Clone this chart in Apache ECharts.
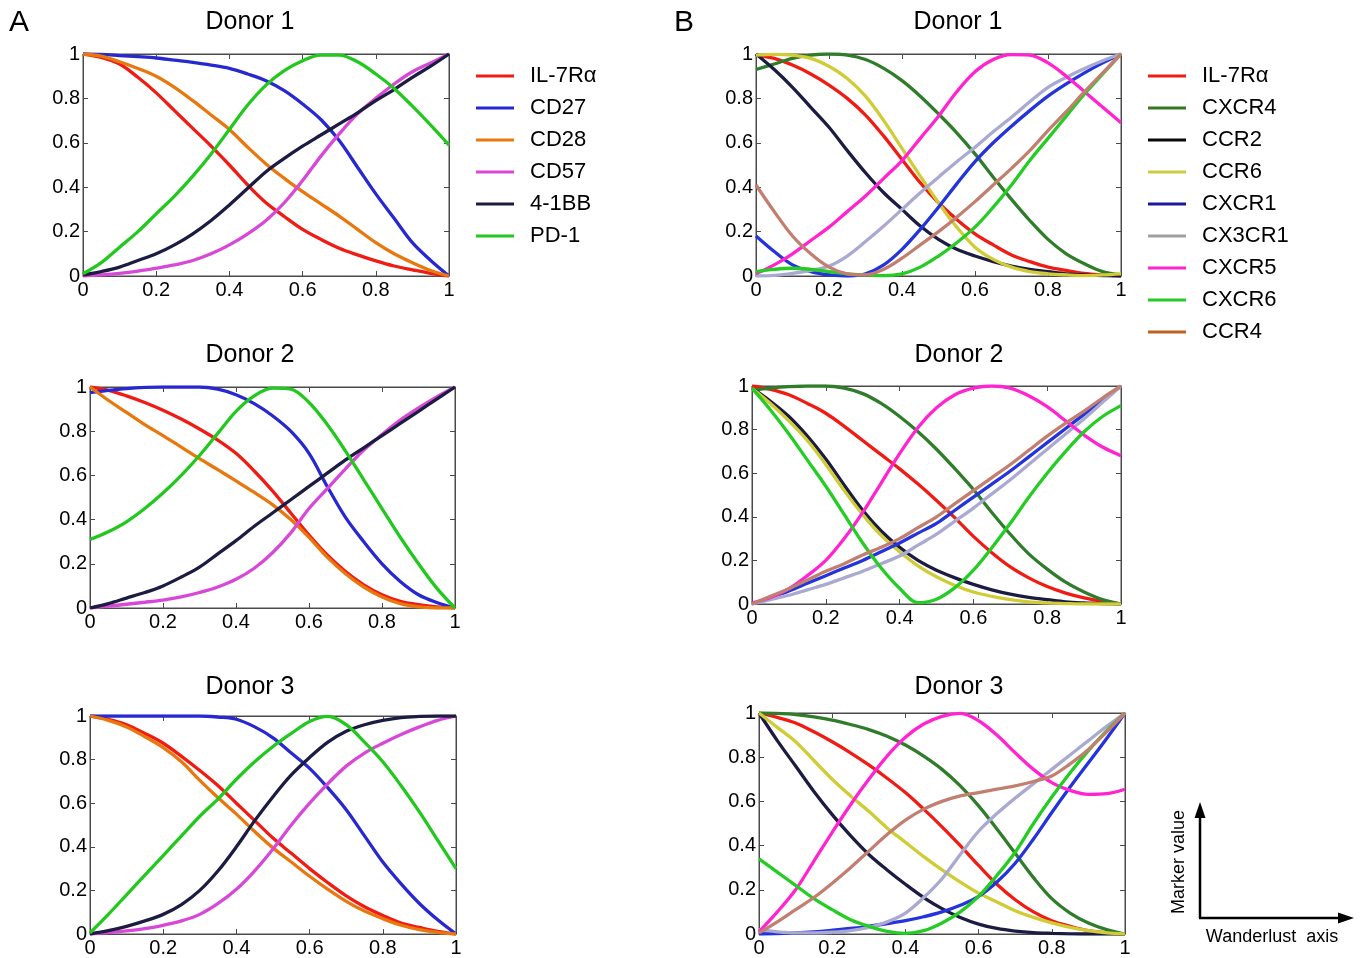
<!DOCTYPE html>
<html>
<head>
<meta charset="utf-8">
<title>Wanderlust marker trajectories</title>
<script src="https://cdn.jsdelivr.net/npm/echarts@6/dist/echarts.min.js"></script>
<style>
  html, body { margin: 0; padding: 0; background: #fff; }
  #chart { width: 1366px; height: 958px; }
</style>
</head>
<body>
<div id="chart"></div>
<script>
// positions along the wanderlust axis, shared by every curve
const wx = [0, 0.05, 0.1, 0.15, 0.2, 0.25, 0.3, 0.35, 0.4, 0.45, 0.5,
            0.55, 0.6, 0.65, 0.7, 0.75, 0.8, 0.85, 0.9, 0.95, 1]

const markersA = ['IL-7Rα', 'CD27', 'CD28', 'CD57', '4-1BB', 'PD-1']
const markersB = ['IL-7Rα', 'CXCR4', 'CCR2', 'CCR6', 'CXCR1', 'CX3CR1', 'CXCR5', 'CXCR6', 'CCR4']

// panel A, one row per marker (same order as markersA)
const donorA1 = [
  [1, 0.985, 0.955, 0.895, 0.825, 0.745, 0.665, 0.585, 0.5, 0.41, 0.33, 0.268, 0.21, 0.165, 0.125, 0.095, 0.068, 0.045, 0.028, 0.012, 0],
  [1, 0.998, 0.993, 0.988, 0.982, 0.972, 0.962, 0.95, 0.935, 0.91, 0.88, 0.835, 0.775, 0.705, 0.61, 0.49, 0.37, 0.26, 0.15, 0.07, 0],
  [1, 0.99, 0.965, 0.935, 0.9, 0.85, 0.79, 0.725, 0.66, 0.58, 0.505, 0.44, 0.38, 0.325, 0.27, 0.21, 0.15, 0.1, 0.06, 0.025, 0],
  [0, 0.005, 0.012, 0.022, 0.035, 0.05, 0.07, 0.1, 0.14, 0.19, 0.25, 0.33, 0.43, 0.54, 0.64, 0.73, 0.8, 0.865, 0.92, 0.96, 1],
  [0.005, 0.02, 0.04, 0.07, 0.1, 0.14, 0.19, 0.25, 0.32, 0.395, 0.47, 0.53, 0.585, 0.635, 0.685, 0.735, 0.79, 0.84, 0.895, 0.945, 1],
  [0.01, 0.06, 0.13, 0.2, 0.28, 0.36, 0.45, 0.55, 0.66, 0.77, 0.86, 0.925, 0.97, 0.995, 0.995, 0.965, 0.91, 0.845, 0.765, 0.68, 0.59]
]
const donorA2 = [
  [1, 0.985, 0.96, 0.93, 0.895, 0.855, 0.81, 0.76, 0.7, 0.62, 0.53, 0.43, 0.33, 0.24, 0.165, 0.105, 0.06, 0.03, 0.015, 0.005, 0],
  [0.975, 0.985, 0.993, 0.998, 1, 1, 1, 0.99, 0.965, 0.925, 0.87, 0.8, 0.7, 0.55, 0.41, 0.3, 0.2, 0.12, 0.06, 0.025, 0],
  [1, 0.94, 0.885, 0.83, 0.78, 0.728, 0.676, 0.626, 0.575, 0.523, 0.468, 0.4, 0.32, 0.23, 0.155, 0.095, 0.05, 0.02, 0.005, 0, 0],
  [0, 0.008, 0.017, 0.026, 0.036, 0.05, 0.07, 0.095, 0.13, 0.18, 0.25, 0.34, 0.45, 0.54, 0.63, 0.715, 0.785, 0.85, 0.905, 0.955, 1],
  [0, 0.02, 0.045, 0.07, 0.1, 0.14, 0.185, 0.245, 0.305, 0.37, 0.43, 0.49, 0.55, 0.61, 0.67, 0.725, 0.78, 0.835, 0.89, 0.945, 1],
  [0.31, 0.345, 0.39, 0.45, 0.52, 0.6, 0.69, 0.79, 0.89, 0.96, 0.995, 0.99, 0.93, 0.83, 0.71, 0.58, 0.45, 0.32, 0.2, 0.09, 0]
]
const donorA3 = [
  [1, 0.985, 0.96, 0.92, 0.875, 0.815, 0.75, 0.68, 0.6, 0.52, 0.44, 0.37, 0.3, 0.235, 0.175, 0.125, 0.085, 0.05, 0.03, 0.012, 0],
  [1, 1, 1, 1, 1, 1, 1, 0.995, 0.985, 0.95, 0.9, 0.83, 0.76, 0.67, 0.57, 0.45, 0.33, 0.23, 0.14, 0.065, 0],
  [1, 0.98, 0.95, 0.905, 0.855, 0.79, 0.705, 0.625, 0.55, 0.47, 0.395, 0.33, 0.265, 0.205, 0.15, 0.105, 0.07, 0.04, 0.02, 0.007, 0],
  [0, 0.006, 0.014, 0.025, 0.04, 0.06, 0.09, 0.14, 0.205, 0.29, 0.39, 0.5, 0.6, 0.69, 0.77, 0.83, 0.875, 0.915, 0.95, 0.98, 1],
  [0, 0.015, 0.035, 0.06, 0.09, 0.135, 0.2, 0.29, 0.4, 0.52, 0.63, 0.73, 0.81, 0.88, 0.93, 0.96, 0.98, 0.993, 0.998, 1, 1],
  [0.005, 0.09, 0.18, 0.27, 0.36, 0.45, 0.54, 0.62, 0.71, 0.79, 0.86, 0.92, 0.975, 0.998, 0.96, 0.88, 0.79, 0.68, 0.56, 0.43, 0.3]
]

// panel B, one row per marker (same order as markersB)
const donorB1 = [
  [0.995, 0.98, 0.95, 0.91, 0.86, 0.8, 0.725, 0.63, 0.525, 0.42, 0.33, 0.255, 0.19, 0.14, 0.095, 0.065, 0.04, 0.025, 0.012, 0.005, 0],
  [0.93, 0.955, 0.98, 0.995, 1, 0.995, 0.975, 0.935, 0.88, 0.81, 0.73, 0.645, 0.55, 0.445, 0.345, 0.25, 0.165, 0.1, 0.055, 0.02, 0.005],
  [1, 0.93, 0.85, 0.76, 0.67, 0.565, 0.465, 0.375, 0.3, 0.225, 0.165, 0.12, 0.09, 0.065, 0.045, 0.03, 0.02, 0.01, 0.005, 0.002, 0],
  [0.995, 0.998, 0.995, 0.98, 0.945, 0.89, 0.81, 0.7, 0.575, 0.45, 0.33, 0.22, 0.13, 0.075, 0.04, 0.02, 0.01, 0.005, 0.002, 0.005, 0.01],
  [0.18, 0.11, 0.05, 0.02, 0.005, 0, 0.01, 0.05, 0.12, 0.21, 0.31, 0.415, 0.515, 0.6, 0.675, 0.745, 0.81, 0.865, 0.915, 0.96, 1],
  [0, 0.003, 0.012, 0.025, 0.045, 0.09, 0.155, 0.225, 0.3, 0.375, 0.445, 0.515, 0.58, 0.65, 0.715, 0.785, 0.85, 0.895, 0.935, 0.97, 1],
  [0.01, 0.05, 0.1, 0.16, 0.22, 0.29, 0.36, 0.44, 0.52, 0.62, 0.72, 0.83, 0.92, 0.975, 0.997, 0.995, 0.96, 0.9, 0.83, 0.76, 0.69],
  [0.02, 0.03, 0.035, 0.03, 0.02, 0.01, 0.005, 0.002, 0.01, 0.04, 0.09, 0.15, 0.22, 0.31, 0.41, 0.52, 0.62, 0.72, 0.82, 0.91, 1],
  [0.41, 0.29, 0.18, 0.1, 0.04, 0.01, 0.005, 0.03, 0.08, 0.14, 0.2, 0.265, 0.335, 0.41, 0.485, 0.565, 0.655, 0.74, 0.83, 0.915, 1]
]
const donorB2 = [
  [1, 0.985, 0.96, 0.92, 0.875, 0.815, 0.75, 0.685, 0.62, 0.55, 0.475, 0.395, 0.31, 0.235, 0.17, 0.12, 0.08, 0.05, 0.028, 0.012, 0],
  [0.98, 0.99, 0.997, 1, 1, 0.99, 0.965, 0.92, 0.86, 0.79, 0.71, 0.62, 0.525, 0.42, 0.32, 0.23, 0.16, 0.1, 0.055, 0.02, 0],
  [0.99, 0.93, 0.86, 0.77, 0.665, 0.545, 0.43, 0.335, 0.26, 0.2, 0.155, 0.12, 0.09, 0.065, 0.045, 0.03, 0.02, 0.01, 0.005, 0.002, 0],
  [0.99, 0.92, 0.84, 0.75, 0.64, 0.52, 0.41, 0.315, 0.24, 0.175, 0.125, 0.085, 0.055, 0.035, 0.02, 0.01, 0.005, 0.002, 0, 0, 0],
  [0, 0.03, 0.06, 0.095, 0.13, 0.165, 0.2, 0.24, 0.28, 0.325, 0.37, 0.43, 0.49, 0.55, 0.61, 0.675, 0.74, 0.805, 0.87, 0.935, 1],
  [0, 0.02, 0.04, 0.065, 0.09, 0.12, 0.15, 0.185, 0.22, 0.27, 0.32, 0.38, 0.44, 0.505, 0.57, 0.64, 0.71, 0.78, 0.85, 0.925, 1],
  [0.005, 0.03, 0.07, 0.13, 0.2, 0.3, 0.42, 0.555, 0.69, 0.81, 0.9, 0.96, 0.99, 1, 0.99, 0.955, 0.905, 0.84, 0.775, 0.72, 0.68],
  [0.99, 0.89, 0.78, 0.66, 0.54, 0.41, 0.28, 0.165, 0.072, 0.006, 0.022, 0.075, 0.155, 0.258, 0.37, 0.49, 0.6, 0.7, 0.79, 0.86, 0.91],
  [0, 0.035, 0.07, 0.11, 0.15, 0.185, 0.225, 0.26, 0.3, 0.35, 0.4, 0.46, 0.52, 0.58, 0.64, 0.705, 0.77, 0.83, 0.885, 0.945, 1]
]
const donorB3 = [
  [1, 0.98, 0.955, 0.915, 0.87, 0.82, 0.765, 0.705, 0.64, 0.565, 0.485, 0.4, 0.31, 0.225, 0.155, 0.1, 0.06, 0.035, 0.015, 0.005, 0],
  [1, 0.998, 0.993, 0.983, 0.968, 0.948, 0.925, 0.895, 0.855, 0.805, 0.745, 0.67, 0.58, 0.475, 0.365, 0.255, 0.16, 0.095, 0.05, 0.02, 0],
  [1, 0.875, 0.76, 0.645, 0.54, 0.445, 0.36, 0.29, 0.225, 0.165, 0.115, 0.075, 0.045, 0.025, 0.013, 0.006, 0.003, 0.001, 0, 0, 0],
  [1, 0.935, 0.87, 0.785, 0.7, 0.625, 0.555, 0.48, 0.415, 0.35, 0.29, 0.235, 0.185, 0.145, 0.105, 0.075, 0.05, 0.03, 0.015, 0.005, 0],
  [0, 0.002, 0.005, 0.01, 0.017, 0.025, 0.035, 0.047, 0.06, 0.078, 0.1, 0.13, 0.17, 0.235, 0.32, 0.43, 0.55, 0.665, 0.775, 0.885, 1],
  [0.02, 0.01, 0.005, 0.005, 0.008, 0.015, 0.03, 0.055, 0.095, 0.165, 0.25, 0.36, 0.465, 0.545, 0.615, 0.68, 0.745, 0.81, 0.875, 0.94, 1],
  [0.01, 0.1, 0.2, 0.33, 0.46, 0.585, 0.7, 0.805, 0.89, 0.95, 0.985, 0.998, 0.965, 0.9, 0.82, 0.745, 0.685, 0.65, 0.632, 0.635, 0.655],
  [0.34, 0.28, 0.22, 0.16, 0.11, 0.065, 0.035, 0.012, 0.003, 0.015, 0.05, 0.1, 0.17, 0.265, 0.37, 0.5, 0.62, 0.73, 0.83, 0.92, 1],
  [0.005, 0.055, 0.11, 0.165, 0.23, 0.3, 0.375, 0.45, 0.515, 0.565, 0.6, 0.625, 0.64, 0.655, 0.67, 0.69, 0.715, 0.77, 0.835, 0.915, 1]
]

const FONT = 'Arial, "Liberation Sans", sans-serif'
const BOX = '#4a4a4a'

// curve colours as drawn inside the plots
const lineColor = {
  'IL-7Rα': '#f01c14', 'CD27': '#2828d2', 'CD28': '#e8780e', 'CD57': '#d848d8',
  '4-1BB': '#1c1c42', 'PD-1': '#22c81e',
  'CXCR4': '#2f7d2a', 'CCR2': '#1c1c42', 'CCR6': '#cfcc36', 'CXCR1': '#2434dc',
  'CX3CR1': '#a9a9d2', 'CXCR5': '#ff24d0', 'CXCR6': '#24cc24', 'CCR4': '#c27f70'
}
// the legend swatches are a little different from the curves in panel B
const legendColorB = {
  'IL-7Rα': '#f01c14', 'CXCR4': '#3a761e', 'CCR2': '#080808', 'CCR6': '#cccc44',
  'CXCR1': '#1a1a96', 'CX3CR1': '#a0a0a0', 'CXCR5': '#ff24d0', 'CXCR6': '#24cc24', 'CCR4': '#c0601e'
}

const panels = [
  { title: 'Donor 1', rows: donorA1, markers: markersA, left: 83, top: 54, width: 366, height: 222, cx: 250, ty: 10 },
  { title: 'Donor 2', rows: donorA2, markers: markersA, left: 90, top: 387, width: 365, height: 221, cx: 250, ty: 343 },
  { title: 'Donor 3', rows: donorA3, markers: markersA, left: 90, top: 716, width: 366, height: 219, cx: 250, ty: 675 },
  { title: 'Donor 1', rows: donorB1, markers: markersB, left: 756, top: 54, width: 365, height: 222, cx: 958, ty: 10 },
  { title: 'Donor 2', rows: donorB2, markers: markersB, left: 752, top: 386, width: 369, height: 218, cx: 959, ty: 343 },
  { title: 'Donor 3', rows: donorB3, markers: markersB, left: 759, top: 713, width: 366, height: 221, cx: 959, ty: 675 }
]

let grid = []
let xAxis = []
let yAxis = []
let series = []
let title = [
  { text: 'A', left: 9, top: 8, padding: 0, textStyle: { fontSize: 30, fontWeight: 'normal', color: '#000', fontFamily: FONT } },
  { text: 'B', left: 674, top: 8, padding: 0, textStyle: { fontSize: 30, fontWeight: 'normal', color: '#000', fontFamily: FONT } }
]

function valueAxis(i, position, showLabel, margin) {
  return {
    gridIndex: i,
    type: 'value',
    position: position,
    min: 0,
    max: 1,
    interval: 0.2,
    axisLine: { show: true, onZero: false, lineStyle: { color: BOX, width: 1 } },
    axisTick: { show: true, inside: true, length: 5, lineStyle: { color: BOX } },
    axisLabel: { show: showLabel, color: '#000', fontSize: 20, fontFamily: FONT, margin: margin },
    splitLine: { show: false }
  }
}

panels.forEach((p, i) => {
  grid.push({ left: p.left, top: p.top, width: p.width, height: p.height, show: true, borderColor: BOX, borderWidth: 1 })
  xAxis.push(valueAxis(i, 'bottom', true, 4), valueAxis(i, 'top', false, 0))
  yAxis.push(valueAxis(i, 'left', true, 3), valueAxis(i, 'right', false, 0))
  title.push({
    text: p.title, left: p.cx, top: p.ty, textAlign: 'center', padding: 0,
    textStyle: { fontSize: 25, fontWeight: 'normal', color: '#000', fontFamily: FONT }
  })
  p.rows.forEach((ys, k) => {
    let name = p.markers[k]
    series.push({
      name: name,
      type: 'line',
      xAxisIndex: 2 * i,
      yAxisIndex: 2 * i,
      data: wx.map((x, j) => [x, ys[j]]),
      smooth: 0.35,
      symbol: 'none',
      lineStyle: { color: lineColor[name], width: 3.3 },
      itemStyle: { color: lineColor[name] },
      emphasis: { disabled: true }
    })
  })
})

function legendBox(names, left, colors) {
  return {
    orient: 'vertical',
    left: left,
    top: 65,
    padding: 0,
    icon: 'rect',
    itemWidth: 38,
    itemHeight: 3,
    itemGap: 10,
    selectedMode: false,
    textStyle: { fontSize: 22, color: '#000', fontFamily: FONT, padding: [0, 0, 0, 11] },
    data: names.map(n => ({ name: n, itemStyle: { color: colors[n] } }))
  }
}

// little axis key in the bottom-right corner
const graphic = [
  { type: 'line', shape: { x1: 1200, y1: 918, x2: 1200, y2: 815 }, style: { stroke: '#000', lineWidth: 2.5 } },
  { type: 'polygon', shape: { points: [[1200, 802], [1194.5, 818], [1205.5, 818]] }, style: { fill: '#000' } },
  { type: 'line', shape: { x1: 1199, y1: 918, x2: 1340, y2: 918 }, style: { stroke: '#000', lineWidth: 2.5 } },
  { type: 'polygon', shape: { points: [[1354, 918], [1338, 912.5], [1338, 923.5]] }, style: { fill: '#000' } },
  { type: 'text', x: 1179, y: 862, rotation: Math.PI / 2,
    style: { text: 'Marker value', fontSize: 18, fontFamily: FONT, fill: '#000', align: 'center', verticalAlign: 'middle' } },
  { type: 'text', x: 1272, y: 937,
    style: { text: 'Wanderlust  axis', fontSize: 18, fontFamily: FONT, fill: '#000', align: 'center', verticalAlign: 'middle' } }
]

const myChart = echarts.init(document.getElementById('chart'), null, { renderer: 'canvas' })
myChart.setOption({
  animation: false,
  backgroundColor: '#fff',
  title: title,
  legend: [legendBox(markersA, 476, lineColor), legendBox(markersB, 1148, legendColorB)],
  grid: grid,
  xAxis: xAxis,
  yAxis: yAxis,
  series: series,
  graphic: graphic
})
</script>
</body>
</html>
